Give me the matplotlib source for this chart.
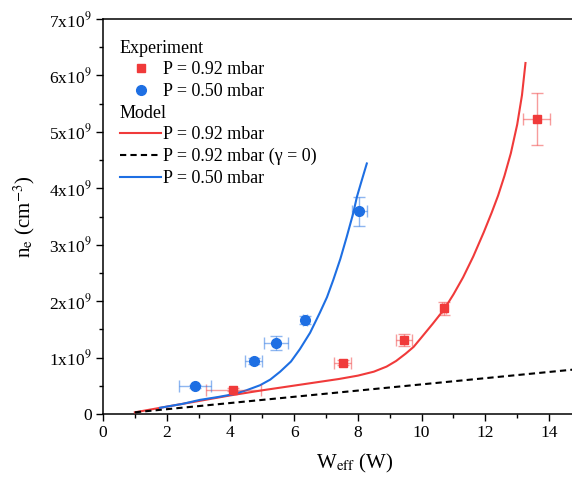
import numpy as np
import matplotlib.pyplot as plt
from matplotlib.ticker import MultipleLocator, FuncFormatter
from matplotlib.lines import Line2D

plt.rcParams['font.family'] = ['Liberation Serif', 'DejaVu Serif']
plt.rcParams['mathtext.fontset'] = 'stix'

RED = '#f03a3a'
BLUE = '#1e6fe3'

# experiment, P = 0.92 mbar
exp_hi_w = [4.09, 7.52, 9.45, 10.71, 13.61]
exp_hi_n = [0.43, 0.91, 1.31, 1.87, 5.22]
exp_hi_werr = [0.87, 0.26, 0.25, 0.06, 0.42]
exp_hi_nerr = [0.03, 0.04, 0.10, 0.12, 0.46]

# experiment, P = 0.50 mbar
exp_lo_w = [2.88, 4.73, 5.43, 6.33, 8.05]
exp_lo_n = [0.49, 0.94, 1.26, 1.66, 3.59]
exp_lo_werr = [0.50, 0.26, 0.37, 0.06, 0.23]
exp_lo_nerr = [0.03, 0.05, 0.12, 0.07, 0.25]

# model curves
mod_hi_w = [1.0, 2.0, 3.0, 4.0, 5.0, 5.6, 6.2, 6.8, 7.4, 8.0, 8.5, 8.9, 9.2, 9.5,
            9.75, 10.0, 10.35, 10.7, 11.0, 11.3, 11.62, 11.95, 12.2, 12.4, 12.6,
            12.8, 13.0, 13.15, 13.26]
mod_hi_n = [0.03, 0.13, 0.23, 0.33, 0.42, 0.47, 0.52, 0.57, 0.62, 0.68, 0.75, 0.84,
            0.94, 1.07, 1.19, 1.36, 1.60, 1.85, 2.12, 2.42, 2.79, 3.22, 3.57, 3.87,
            4.22, 4.62, 5.13, 5.65, 6.22]

mod_g0_w = [1.0, 15.0]
mod_g0_n = [0.03, 0.80]

mod_lo_w = [1.79, 2.5, 3.04, 3.6, 4.09, 4.5, 4.93, 5.25, 5.56, 5.9, 6.18, 6.5,
            6.81, 7.03, 7.23, 7.45, 7.65, 7.85, 7.97, 8.1, 8.28]
mod_lo_n = [0.11, 0.18, 0.25, 0.30, 0.35, 0.42, 0.51, 0.61, 0.75, 0.93, 1.15, 1.44,
            1.80, 2.07, 2.38, 2.75, 3.14, 3.55, 3.85, 4.10, 4.44]

fig = plt.figure(figsize=(5.72, 4.79), dpi=100)
ax = fig.add_axes([103 / 572, 1 - 414 / 479, 1 - 103 / 572, 395 / 479])

ax.plot(mod_hi_w, mod_hi_n, color=RED, lw=1.5, zorder=3)
ax.plot(mod_g0_w, mod_g0_n, color='black', lw=1.5, ls=(0, (3, 2)), zorder=3)
ax.plot(mod_lo_w, mod_lo_n, color=BLUE, lw=1.5, zorder=3)

ax.errorbar(exp_hi_w, exp_hi_n, xerr=exp_hi_werr, yerr=exp_hi_nerr, fmt='none',
            ecolor=RED, alpha=0.5, elinewidth=1, capsize=4, capthick=1, zorder=4)
ax.plot(exp_hi_w, exp_hi_n, 's', color=RED, ms=6, zorder=5)
ax.errorbar(exp_lo_w, exp_lo_n, xerr=exp_lo_werr, yerr=exp_lo_nerr, fmt='none',
            ecolor=BLUE, alpha=0.5, elinewidth=1, capsize=4, capthick=1, zorder=4)
ax.plot(exp_lo_w, exp_lo_n, 'o', color=BLUE, ms=7, zorder=5)

ax.set_xlim(0, 14.72)
ax.set_ylim(0, 7)
ax.xaxis.set_major_locator(MultipleLocator(2))
ax.xaxis.set_minor_locator(MultipleLocator(1))
ax.yaxis.set_major_locator(MultipleLocator(1))
ax.yaxis.set_minor_locator(MultipleLocator(0.5))
ax.yaxis.set_major_formatter(FuncFormatter(
    lambda v, p: '0' if v == 0 else r'%dx10$^{9}$' % round(v)))
ax.tick_params(which='major', direction='out', length=5, width=1, labelsize=12.5, pad=3)
ax.tick_params(which='minor', direction='out', length=3, width=1)
ax.spines['right'].set_visible(False)
for s in ['left', 'bottom', 'top']:
    ax.spines[s].set_linewidth(1.1)

ax.set_xlabel(r'W$_{\mathrm{eff}}$ (W)', fontsize=15)
ax.xaxis.set_label_coords((355 - 103) / 469, -0.095)
ax.set_ylabel(r'n$_{\mathrm{e}}$ (cm$^{-3}$)', fontsize=15)
ax.yaxis.set_label_coords(-0.14, 0.5)

blank = Line2D([], [], linestyle='none')
handles = [blank,
           Line2D([], [], marker='s', color=RED, ls='none', ms=6),
           Line2D([], [], marker='o', color=BLUE, ls='none', ms=7),
           blank,
           Line2D([], [], color=RED, lw=1.5),
           Line2D([], [], color='black', lw=1.5, ls=(0, (3, 2))),
           Line2D([], [], color=BLUE, lw=1.5)]
labels = ['Experiment', 'P = 0.92 mbar', 'P = 0.50 mbar', 'Model',
          'P = 0.92 mbar', 'P = 0.92 mbar (γ = 0)', 'P = 0.50 mbar']
leg = ax.legend(handles, labels, loc='upper left', bbox_to_anchor=(0.013, 0.975),
                frameon=False, fontsize=13, handlelength=2.3, handletextpad=0.1,
                labelspacing=0.26, borderaxespad=0.2)
headers = {'Experiment', 'Model'}
for vpack in leg._legend_handle_box.get_children():
    for hpack in vpack.get_children():
        area, txt = hpack.get_children()
        if txt.get_text() in headers:
            area.set_width(0)
            hpack.sep = 0

fig.savefig('out.png', dpi=100)
